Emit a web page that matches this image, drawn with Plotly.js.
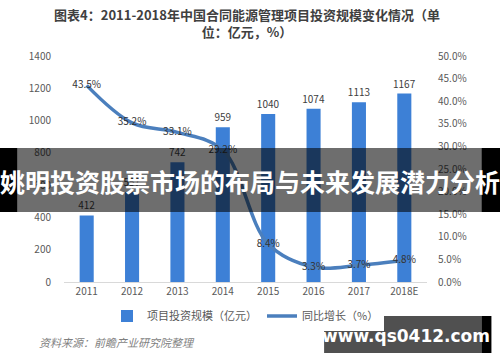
<!DOCTYPE html>
<html><head><meta charset="utf-8">
<script src="https://cdn.plot.ly/plotly-3.0.1.min.js"></script>
<style>html,body{margin:0;padding:0;background:#fff}#chart{width:500px;height:362px}</style>
</head><body><div id="chart"></div>
<script>
const years = ['2011','2012','2013','2014','2015','2016','2017','2018E'];
const investment = [412, 557, 742, 959, 1040, 1074, 1113, 1167];
const growth = [43.5, 35.2, 33.1, 29.2, 8.4, 3.3, 3.7, 4.8];
const growthLabels = growth.map(v => v.toFixed(1) + '%');
const titleText = '图表4：2011-2018年中国合同能源管理项目投资规模变化情况（单<br>位：亿元，%）';
const bannerText = '姚明投资股票市场的布局与未来发展潜力分析';
const sourceText = '资料来源：前瞻产业研究院整理';
const watermarkText = 'www.qs0412.com';

const FONT = 'Noto Sans CJK SC, sans-serif';
// plot area in px
const L = 64.4, R = 426.7, T = 56, B = 282;
const px = x => (x - L) / (R - L);
const py = y => (B - y) / (B - T);

const traces = [
  {
    type: 'bar', x: years, y: investment, name: '项目投资规模（亿元）',
    marker: {color: '#3d80d6'},
    text: investment.map(String), textposition: 'outside', cliponaxis: false, constraintext: 'none',
    textfont: {size: 10, color: '#404040', family: FONT},
    hoverinfo: 'none'
  },
  {
    type: 'scatter', x: years, y: growth, yaxis: 'y2', name: '同比增长（%）',
    mode: 'lines+text', line: {color: '#4b7fbd', width: 3.5, shape: 'spline', smoothing: 1},
    text: growthLabels, textposition: 'middle center', cliponaxis: false,
    textfont: {size: 10, color: '#333333', family: FONT},
    hoverinfo: 'none'
  }
];

const layout = {
  width: 500, height: 362,
  margin: {l: L, r: 500 - R, t: T, b: 362 - B, pad: 0},
  paper_bgcolor: '#ffffff', plot_bgcolor: '#ffffff',
  font: {family: FONT, size: 10, color: '#595959'},
  title: {text: titleText, x: 0.494, xanchor: 'center', y: 1 - 20/362, yanchor: 'middle',
          font: {family: FONT, size: 13, color: '#404040', weight: 'bold'}},
  bargap: 0.69,
  xaxis: {type: 'category', showline: true, linecolor: '#d9d9d9', linewidth: 1,
          ticks: '', showgrid: false, tickfont: {size: 10, color: '#595959'}, fixedrange: true},
  yaxis: {range: [0, 1400], dtick: 200, showgrid: false, zeroline: false, showline: false,
          ticks: '', tickfont: {size: 10, color: '#595959'}, ticklabelstandoff: 12, fixedrange: true},
  yaxis2: {range: [0, 50], dtick: 5, overlaying: 'y', side: 'right', showgrid: false, zeroline: false,
           tickformat: '.1f', ticksuffix: '%', ticks: '', tickfont: {size: 10, color: '#595959'},
           ticklabelstandoff: 10, fixedrange: true},
  showlegend: true,
  legend: {orientation: 'h', x: 0.5, xanchor: 'center', y: py(316), yanchor: 'middle',
           font: {size: 11, color: '#595959'}, itemwidth: 30, tracegroupgap: 0},
  shapes: [
    // banner
    {type: 'rect', xref: 'paper', yref: 'paper', x0: px(0), x1: px(18), y0: py(212), y1: py(148),
     fillcolor: '#000000', line: {width: 0}, layer: 'above'},
    {type: 'rect', xref: 'paper', yref: 'paper', x0: px(481), x1: px(500), y0: py(212), y1: py(148),
     fillcolor: '#000000', line: {width: 0}, layer: 'above'},
    {type: 'rect', xref: 'paper', yref: 'paper', x0: px(18), x1: px(481), y0: py(212), y1: py(148),
     fillcolor: 'rgba(0,0,0,0.57)', line: {width: 0}, layer: 'above'},
    // watermark box
    {type: 'rect', xref: 'paper', yref: 'paper', x0: px(324), x1: px(481), y0: py(353), y1: py(316),
     fillcolor: '#505050', line: {width: 0}, layer: 'above'},
    {type: 'rect', xref: 'paper', yref: 'paper', x0: px(481), x1: px(491), y0: py(353), y1: py(316),
     fillcolor: '#000000', line: {width: 0}, layer: 'above'}
  ],
  annotations: [
    {text: bannerText, xref: 'paper', yref: 'paper', x: px(250), y: py(181), xanchor: 'center', yanchor: 'middle',
     showarrow: false, font: {family: FONT, size: 25, color: '#ffffff', weight: 'bold'}},
    {text: sourceText, xref: 'paper', yref: 'paper', x: px(37), y: py(342), xanchor: 'left', yanchor: 'middle',
     showarrow: false, font: {family: FONT, size: 11, color: '#7f7f7f', style: 'italic'}},
    {text: watermarkText, xref: 'paper', yref: 'paper', x: px(406), y: py(336), xanchor: 'center', yanchor: 'middle',
     showarrow: false, font: {family: 'DejaVu Sans, sans-serif', size: 17, color: '#ffffff', weight: 'bold'}}
  ]
};

Plotly.newPlot('chart', traces, layout, {displayModeBar: false, staticPlot: true});
</script></body></html>
